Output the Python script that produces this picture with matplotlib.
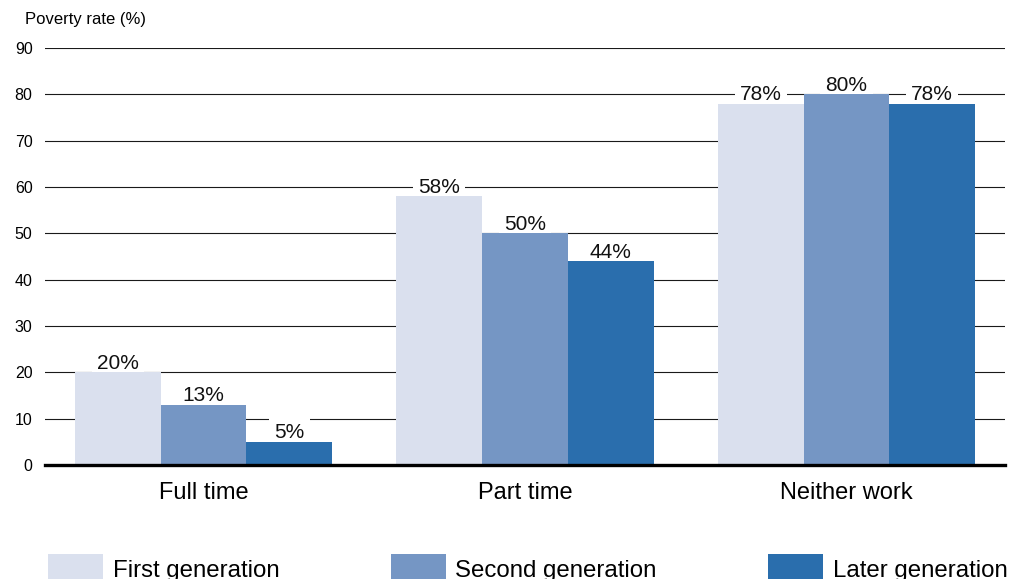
import matplotlib.pyplot as plt
import numpy as np
from matplotlib.patches import Patch

plt.rcParams['font.family'] = ['Liberation Sans', 'DejaVu Sans']

categories = ['Full time', 'Part time', 'Neither work']
series_names = ['First generation', 'Second generation', 'Later generation']
first_gen = [20, 58, 78]
second_gen = [13, 50, 80]
later_gen = [5, 44, 78]
yticks = [0, 10, 20, 30, 40, 50, 60, 70, 80, 90]

colors = ['#dae0ee', '#7596c4', '#2a6ead']

fig = plt.figure(figsize=(10.16, 5.79), dpi=100)
ax = fig.add_axes([45 / 1016, 1 - 465 / 579, 960 / 1016, 417 / 579])

x = np.arange(len(categories))
width = 0.8 / 3
for i, (vals, name, col) in enumerate(zip([first_gen, second_gen, later_gen], series_names, colors)):
    bars = ax.bar(x + (i - 1) * width, vals, width, color=col, label=name, zorder=3)
    for b, v in zip(bars, vals):
        # white box hides the gridline behind the label; bars sit on top of it
        ax.annotate(f'{v}%', (b.get_x() + b.get_width() / 2, v),
                    xytext=(0, 2.5), textcoords='offset points',
                    ha='center', va='baseline', fontsize=15, color='#111111',
                    bbox=dict(boxstyle='square,pad=0.25', fc='white', ec='none'),
                    zorder=2)

ax.set_xlim(-0.493, 2.493)
ax.set_ylim(0, 90)
ax.set_yticks(yticks)
ax.set_xticks(x)
ax.set_xticklabels(categories, fontsize=17)
ax.tick_params(axis='both', length=0)
ax.tick_params(axis='y', labelsize=11.5, pad=9)
ax.tick_params(axis='x', pad=12)
for s in ax.spines.values():
    s.set_visible(False)

for t in yticks[1:]:
    ax.axhline(t, color='#1a1a1a', lw=0.8, zorder=1)
ax.axhline(0, color='black', lw=2.4, zorder=4, clip_on=False)

fig.text(25 / 1016, 1 - 12 / 579, 'Poverty rate (%)', fontsize=12, va='top', ha='left')

handles = [Patch(facecolor=c, edgecolor='none') for c in colors]
fig.legend(handles, series_names, loc='upper left',
           bbox_to_anchor=(48 / 1016, 1 - 554 / 579), ncol=3, frameon=False,
           fontsize=17.3, handlelength=2.29, handleheight=1.5, handletextpad=0.41,
           columnspacing=4.62, borderpad=0, borderaxespad=0)

fig.savefig('out.png', dpi=100, facecolor='white')
